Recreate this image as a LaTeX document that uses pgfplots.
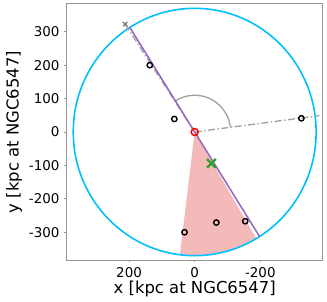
\documentclass[border=0pt]{standalone}
\usepackage{pgfplots}
\pgfplotsset{compat=1.18}
\usepackage{fontspec}
\setmainfont{DejaVu Sans}
\definecolor{skyc}{RGB}{0,191,255}
\definecolor{tabpurple}{RGB}{148,103,189}
\definecolor{tabgreen}{RGB}{44,160,44}
\definecolor{wedge}{RGB}{244,186,186}
\definecolor{spine}{RGB}{150,150,150}
\begin{document}
\begin{tikzpicture}
\begin{pgfinterruptboundingbox}
\begin{axis}[
  scale only axis, width=256bp, height=256bp,
  x dir=reverse,
  xmin=-390, xmax=390, ymin=-383, ymax=383,
  xtick={-200,0,200}, ytick={-300,-200,-100,0,100,200,300},
  axis line style={spine, line width=1pt},
  tick style={spine, line width=0.7pt},
  major tick length=2.5bp,
  tick align=outside,
  xtick pos=bottom, ytick pos=left,
  /pgf/number format/assume math mode=true,
  ticklabel style={font=\fontsize{13.5}{14}\selectfont, inner sep=0pt},
  yticklabel style={anchor=east},
  xticklabel style={anchor=north},
  yticklabel shift=4.5bp,
  xticklabel shift=5bp,
  xlabel={x [kpc at NGC6547]}, ylabel={y [kpc at NGC6547]},
  label style={font=\fontsize{16.5}{18}\selectfont, inner sep=0pt},
  xlabel style={at={(axis description cs:0.5,-0.1302)}, anchor=base},
  ylabel style={at={(axis description cs:-0.1875,0.5)}, anchor=base, rotate=0},
  clip=true,
]
% red wedge
\addplot[fill=wedge, draw=none] coordinates {
 (0,0) (45.1,-367.2) (0,-370) (-32.2,-368.6) (-64.2,-364.4) (-95.8,-357.4)
 (-126.5,-347.7) (-156.4,-335.3) (-187.8,-318.8) (0,0)};
% circle
\draw[skyc, line width=1.6pt] (axis cs:0,0) circle [radius=370];
% gray arc
\addplot[gray!75, line width=1.3pt, smooth] coordinates {
 (60.4,91.9) (46.5,99.7) (28.5,106.3) (0,110) (-28.5,106.3) (-55,95.3)
 (-77.8,77.8) (-95.3,55) (-103.4,37.6) (-109.1,14.2)};
% dash-dot lines
\addplot[gray!75, line width=1.3pt, dash pattern=on 7pt off 2.5pt on 1.5pt off 2.5pt] coordinates {(0,0) (212,323)};
\addplot[gray!75, line width=1.3pt, dash pattern=on 7pt off 2.5pt on 1.5pt off 2.5pt] coordinates {(0,0) (-380,49)};
\addplot[only marks, mark=x, mark size=3.2pt, gray!90!black, line width=1.2pt] coordinates {(212,323)};
% purple line
\addplot[tabpurple, line width=1.5pt] coordinates {(197.6,312.8) (-197.6,-312.8)};
% black open circles
\addplot[only marks, mark=o, mark size=2.7pt, black, line width=1.4pt] coordinates {
 (137,200) (62,39) (-325,41) (31,-300) (-66,-271) (-154,-267)};
% red circle at origin
\addplot[only marks, mark=o, mark size=3.5pt, red, line width=1.5pt] coordinates {(0,0)};
% green x
\addplot[only marks, mark=x, mark size=6.2pt, tabgreen, line width=2.3pt] coordinates {(-51,-94)};
\end{axis}
\end{pgfinterruptboundingbox}
\path (current axis.south west) ++(-66.7bp,-42bp);
\path (current axis.north east) ++(4.3bp,4bp);
\end{tikzpicture}
\end{document}
